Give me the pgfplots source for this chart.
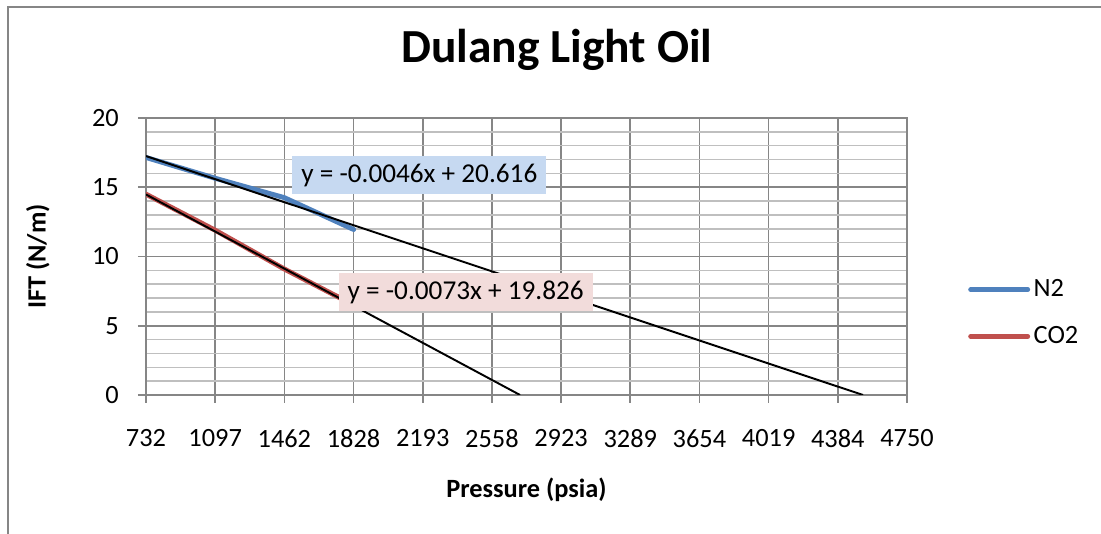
\documentclass[border=0pt]{standalone}
\usepackage{fontspec}
\setmainfont{Carlito}
\usepackage{pgfplots}
\pgfplotsset{compat=1.18}
\definecolor{sblue}{RGB}{79,129,189}
\definecolor{sred}{RGB}{192,80,77}
\definecolor{bfill}{RGB}{198,217,241}
\definecolor{pfill}{RGB}{242,220,219}
\definecolor{gmaj}{RGB}{134,134,134}
\definecolor{gmin}{RGB}{191,191,191}
\begin{document}
\begin{tikzpicture}
\useasboundingbox (0,0) rectangle (22.02cm,10.68cm);
\draw[gmaj, line width=0.05cm] (0.16cm,0) -- (0.16cm,10.54cm) -- (22.02cm,10.54cm);
\begin{axis}[
  at={(2.92cm,2.78cm)}, anchor=south west, scale only axis,
  width=15.22cm, height=5.54cm,
  xmin=732, xmax=4750, ymin=0, ymax=20,
  xtick={732,1097.27,1462.55,1827.82,2193.09,2558.36,2923.64,3288.91,3654.18,4019.45,4384.73,4750},
  xticklabels={732,1097,1462,1828,2193,2558,2923,3289,3654,4019,4384,4750},
  ytick={0,5,10,15,20},
  minor y tick num=4,
  grid=both,
  major grid style={gmaj, line width=0.9pt},
  minor grid style={gmin, line width=0.9pt},
  axis line style={gmaj, line width=0.9pt},
  tick style={gmaj, line width=0.9pt},
  tick align=outside, major tick length=0.16cm, minor tick length=0pt,
  xtick pos=bottom, ytick pos=left,
  /pgf/number format/assume math mode=true,
  tick label style={font=\fontsize{15}{18}\selectfont},
  xticklabel style={yshift=-0.4cm},
  yticklabel style={xshift=-0.26cm},
  title={\fontsize{27}{31}\selectfont\bfseries Dulang Light Oil},
  title style={at={(axis description cs:0.540,1.209)}, anchor=center},
  xlabel={\bfseries Pressure (psia)},
  ylabel={\bfseries IFT (N/m)},
  xlabel style={font=\fontsize{15}{18}\selectfont, at={(axis description cs:0.5,-0.343)}, anchor=center},
  ylabel style={font=\fontsize{15}{18}\selectfont, at={(axis description cs:-0.142,0.5)}, anchor=center, rotate=0},
  legend style={draw=none, fill=none, at={(axis description cs:1.08,0.296)}, anchor=west,
    font=\fontsize{15}{18}\selectfont, row sep=0.4cm, inner xsep=0pt},
  legend cell align=left,
  legend image code/.code={\draw[#1, line cap=round] (0cm,0cm) -- (1.14cm,0cm);},
]
\addplot[sblue, line width=2.8pt, line cap=round, line join=round] coordinates {
  (732,17.15) (1097,15.65) (1462,14.25) (1828,11.95)};
\addlegendentry{N2}
\addplot[sred, line width=2.8pt, line cap=round, line join=round] coordinates {
  (732,14.5) (1097,11.9) (1462,9.1) (1828,6.5)};
\addlegendentry{CO2}
\addplot[black, line width=1.1pt, forget plot] coordinates {(732,17.25) (4518,0)};
\addplot[black, line width=1.1pt, forget plot] coordinates {(732,14.48) (2707,0)};
\node[fill=bfill, inner xsep=5pt, inner ysep=4.5pt, font=\fontsize{15.5}{18}\selectfont] at (axis cs:2175,15.88) {y = -0.0046x + 20.616};
\node[fill=pfill, inner xsep=5pt, inner ysep=4.5pt, font=\fontsize{15.5}{18}\selectfont] at (axis cs:2420,7.44) {y = -0.0073x + 19.826};
\end{axis}
\end{tikzpicture}
\end{document}
